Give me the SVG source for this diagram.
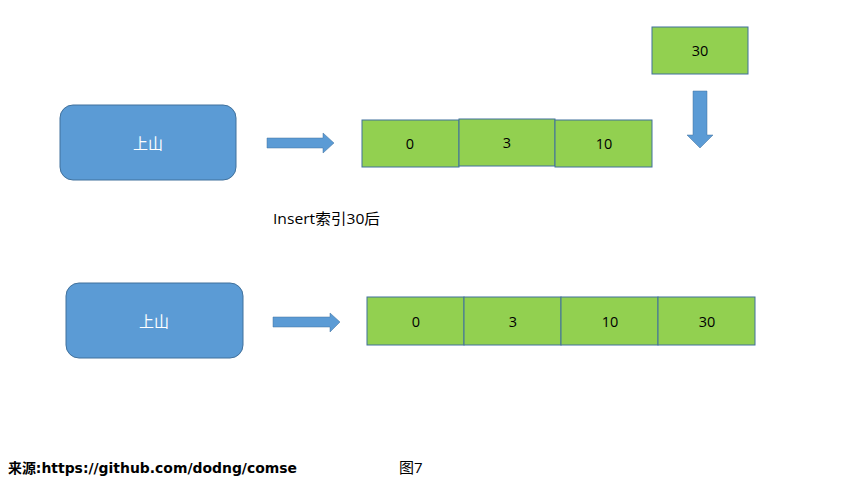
<svg xmlns="http://www.w3.org/2000/svg" width="859" height="485" viewBox="0 0 859 485">
<style>
.blue{fill:#5B9BD5;stroke:#41719C;stroke-width:1}
.cell{fill:#92D050;stroke:#41719C;stroke-width:1}
.arrow{fill:#5B9BD5;stroke:#41719C;stroke-width:0.5}
.wt{font-family:"Noto Sans CJK SC","Liberation Sans",sans-serif;font-size:15px;fill:#ffffff;text-anchor:middle;dominant-baseline:central}
.num{font-family:"Open Sans","Liberation Sans",sans-serif;font-size:14.5px;fill:#000000;text-anchor:middle;dominant-baseline:central}
.lbl{font-family:"Open Sans","Noto Sans CJK SC",sans-serif;font-size:15px;fill:#000000}
.src{font-family:"DejaVu Sans","Noto Sans CJK SC",sans-serif;font-size:14px;font-weight:bold;fill:#000000}
</style>
<rect width="859" height="485" fill="#ffffff"/>
<g id="node-top-shan">
<rect class="blue" x="60" y="105" width="176" height="75" rx="13"/>
<text class="wt" x="148" y="142">上山</text>
</g>
<g id="node-top-arr">
<rect class="cell" x="362" y="120" width="97" height="47"/><text class="num" x="410" y="143">0</text>
<rect class="cell" x="459" y="119" width="96" height="47"/><text class="num" x="507" y="142">3</text>
<rect class="cell" x="555" y="120" width="97" height="47"/><text class="num" x="604" y="143">10</text>
</g>
<g id="node-30">
<rect class="cell" x="652" y="27" width="96" height="47"/>
<text class="num" x="700" y="50">30</text>
</g>
<g id="node-bottom-shan">
<rect class="blue" x="66" y="283" width="177" height="75" rx="13"/>
<text class="wt" x="154" y="320">上山</text>
</g>
<g id="node-bottom-arr">
<rect class="cell" x="367" y="297" width="97" height="48"/><text class="num" x="416" y="321">0</text>
<rect class="cell" x="464" y="297" width="97" height="48"/><text class="num" x="513" y="321">3</text>
<rect class="cell" x="561" y="297" width="97" height="48"/><text class="num" x="610" y="321">10</text>
<rect class="cell" x="658" y="297" width="97" height="48"/><text class="num" x="707" y="321">30</text>
</g>
<g id="connectors">
<polygon class="arrow" points="267,138 323,138 323,133 334,143 323,153 323,148 267,148"/>
<polygon class="arrow" points="693,91 707,91 707,135 713,135 700,148 687,135 693,135"/>
<polygon class="arrow" points="273,317 330,317 330,313 340,322 330,332 330,327 273,327"/>
</g>
<text class="lbl" x="273" y="224" textLength="107" lengthAdjust="spacingAndGlyphs">Insert索引30后</text>
<text class="src" x="8" y="473" textLength="289" lengthAdjust="spacingAndGlyphs">来源:https://github.com/dodng/comse</text>
<text class="lbl" x="399" y="473">图7</text>
</svg>
